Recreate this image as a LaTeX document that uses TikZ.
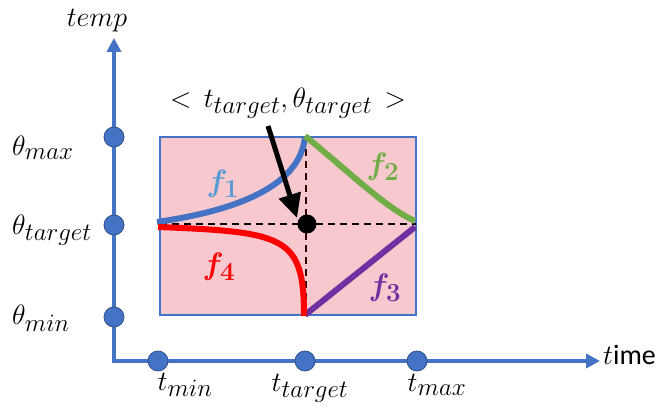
\RequirePackage{fix-cm}
\documentclass[tikz,border=0pt]{standalone}
\usepackage{amsmath}
\usepackage{fontspec}
\newfontfamily\calibri{Carlito}
\usetikzlibrary{arrows.meta}
\DeclareMathSizes{28}{28}{25}{18}
\DeclareMathSizes{31}{31}{26}{19}
\definecolor{axblue}{HTML}{4472C4}
\definecolor{dotedge}{HTML}{2F528F}
\definecolor{lblue}{HTML}{5B9BD5}
\definecolor{fgreen}{HTML}{70AD47}
\definecolor{fpurple}{HTML}{7030A0}
\definecolor{fred}{HTML}{FF0000}
\definecolor{pinkfill}{HTML}{F8C8CF}
\definecolor{darkdash}{HTML}{300000}
\begin{document}
\begin{tikzpicture}[x=1pt,y=-1pt,
  tick/.style={circle,fill=axblue,draw=dotedge,line width=0.8pt,minimum size=20pt,inner sep=0pt},
  lab/.style={font=\fontsize{28}{32}\selectfont,inner sep=0pt},
  flab/.style={font=\fontsize{31}{36}\selectfont,inner sep=0pt},
  axisline/.style={axblue,line width=4pt,{Triangle[length=14pt,width=14pt]}-{Triangle[length=14pt,width=14pt]}},
  curve/.style={line width=6pt},
  guide/.style={line width=1.5pt,dash pattern=on 7pt off 5pt},
  bigarrow/.style={line width=5pt,-{Triangle[length=24pt,width=22pt]}}]
\useasboundingbox (0,0) rectangle (665,414);
% region
\draw[fill=pinkfill,draw=axblue,line width=1.2pt] (160,137) rectangle (416,315);
% axes
\coordinate (ytop) at (114,38);
\coordinate (xend) at (600,361);
\draw[axisline] (ytop) |- (xend);
% ticks
\node[tick] (thmax) at (114,137) {};
\node[tick] (thtgt) at (114,225) {};
\node[tick] (thmin) at (114,317) {};
\node[tick] (tmin) at (158,361) {};
\node[tick] (ttgt) at (305,361) {};
\node[tick] (tmax) at (417,361) {};
% guides
\coordinate (gl) at (160,224);
\coordinate (gr) at (416,224);
\coordinate (gt) at (306,137);
\coordinate (gb) at (306,315);
\draw[guide,black] (gl) -- (gr);
\draw[guide,darkdash] (gt) -- (gb);
% curves
\coordinate (f1s) at (157,222);
\coordinate (f1e) at (305,137);
\draw[curve,axblue] (f1s) .. controls (240,210) and (300,185) .. (f1e);
\coordinate (f2s) at (305,136);
\coordinate (f2e) at (415,221);
\draw[curve,fgreen] (f2s) .. controls (345,168) and (385,208) .. (f2e);
\coordinate (f3s) at (305,315);
\coordinate (f3e) at (415,227);
\draw[curve,fpurple] (f3s) -- (f3e);
\coordinate (f4s) at (158,227);
\coordinate (f4e) at (304,316);
\draw[curve,fred] (f4s) .. controls (285,232) and (304,236) .. (f4e);
% target point
\node[circle,fill=black,minimum size=19pt,inner sep=0pt] (tgt) at (307,224) {};
% labels
\node[lab] (ptlab) at (288,103) {$<\,t_{target},\theta_{target}\,>$};
\coordinate (arrS) at (268,126);
\coordinate (arrE) at (297,218);
\draw[bigarrow] (arrS) -- (arrE);
\node[lab] (templab) at (97,21) {$temp$};
\node[lab,anchor=west] (thmaxlab) at (12,148) {$\theta_{max}$};
\node[lab,anchor=west] (thtgtlab) at (12,230) {$\theta_{target}$};
\node[lab,anchor=west] (thminlab) at (12,318) {$\theta_{min}$};
\node[lab] (tminlab) at (185,385) {$t_{min}$};
\node[lab] (ttgtlab) at (310,388) {$t_{target}$};
\node[lab] (tmaxlab) at (437,385) {$t_{max}$};
\node[lab,anchor=west] (timelab) at (603,355) {$t${\calibri ime}};
\node[flab,text=lblue] (f1lab) at (223,184) {$\boldsymbol{f_1}$};
\node[flab,text=fgreen] (f2lab) at (383,167) {$\boldsymbol{f_2}$};
\node[flab,text=fpurple] (f3lab) at (385,288) {$\boldsymbol{f_3}$};
\node[flab,text=fred] (f4lab) at (219,267) {$\boldsymbol{f_4}$};
\end{tikzpicture}
\end{document}
